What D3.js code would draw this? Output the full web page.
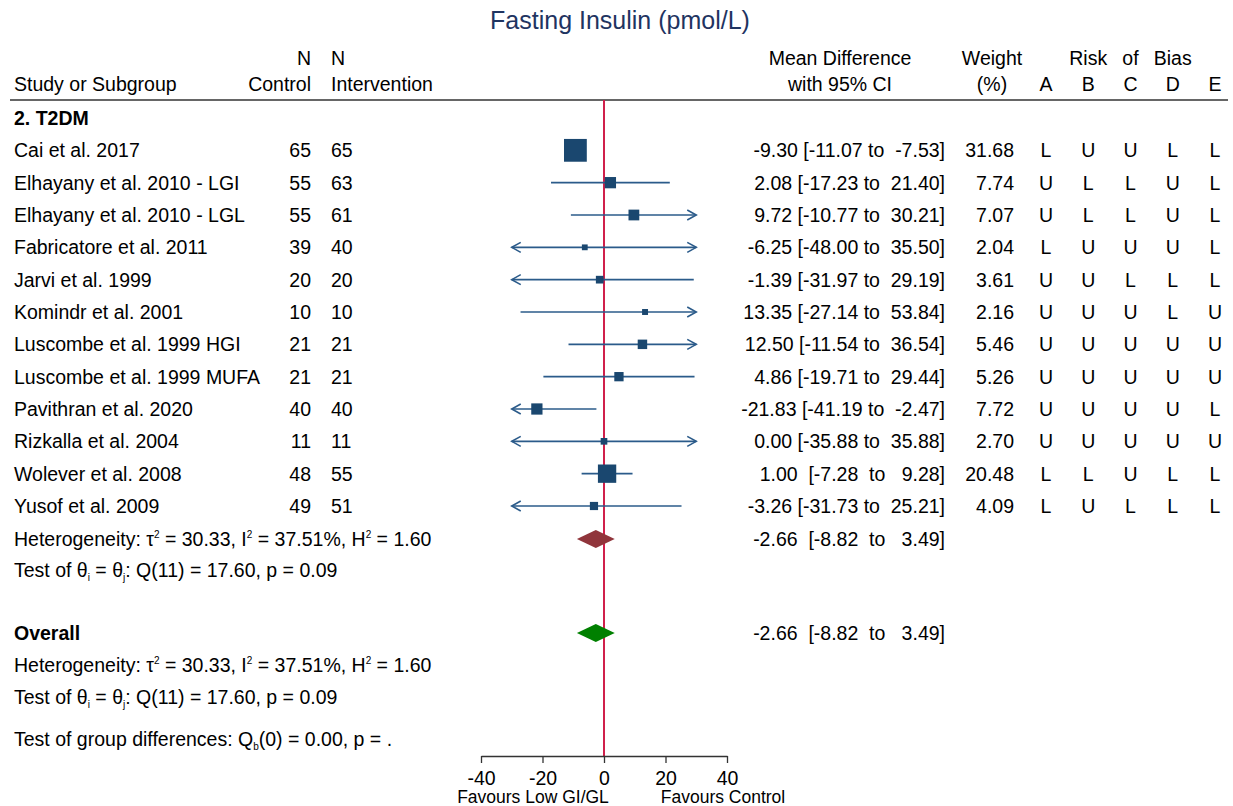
<!DOCTYPE html>
<html lang="en">
<head>
<meta charset="UTF-8">
<title>Fasting Insulin forest plot</title>
<style>
    body { margin: 0; background: #fff; }
    svg text { font-family: "Liberation Sans", Arial, sans-serif; fill: #000; }
</style>
</head>
<body>
<script src="https://cdn.jsdelivr.net/npm/d3@7/dist/d3.min.js"></script>
<script>
    // data
    var studies = ["Cai et al. 2017", "Elhayany et al. 2010 - LGI", "Elhayany et al. 2010 - LGL",
        "Fabricatore et al. 2011", "Jarvi et al. 1999", "Komindr et al. 2001",
        "Luscombe et al. 1999 HGI", "Luscombe et al. 1999 MUFA", "Pavithran et al. 2020",
        "Rizkalla et al. 2004", "Wolever et al. 2008", "Yusof et al. 2009"];
    var nControl = [65, 55, 55, 39, 20, 10, 21, 21, 40, 11, 48, 49];
    var nIntervention = [65, 63, 61, 40, 20, 10, 21, 21, 40, 11, 55, 51];
    var meanDiff = [-9.30, 2.08, 9.72, -6.25, -1.39, 13.35, 12.50, 4.86, -21.83, 0.00, 1.00, -3.26];
    var ciLow = [-11.07, -17.23, -10.77, -48.00, -31.97, -27.14, -11.54, -19.71, -41.19, -35.88, -7.28, -31.73];
    var ciHigh = [-7.53, 21.40, 30.21, 35.50, 29.19, 53.84, 36.54, 29.44, -2.47, 35.88, 9.28, 25.21];
    var weight = [31.68, 7.74, 7.07, 2.04, 3.61, 2.16, 5.46, 5.26, 7.72, 2.70, 20.48, 4.09];
    var rob = [
        ["L", "U", "U", "L", "L"],
        ["U", "L", "L", "U", "L"],
        ["U", "L", "L", "U", "L"],
        ["L", "U", "U", "U", "L"],
        ["U", "U", "L", "L", "L"],
        ["U", "U", "U", "L", "U"],
        ["U", "U", "U", "U", "U"],
        ["U", "U", "U", "U", "U"],
        ["U", "U", "U", "U", "L"],
        ["U", "U", "U", "U", "U"],
        ["L", "L", "U", "L", "L"],
        ["L", "U", "L", "L", "L"]
    ];
    var pooled = [-2.66, -8.82, 3.49];   // subgroup and overall (same)
    var xTicks = [-40, -20, 0, 20, 40];
    var robCols = ["A", "B", "C", "D", "E"];

    var w = 1233, h = 806;
    var navy = "#1a476f";
    var lineCol = "#2b5b8a";

    var svg = d3.select("body").append("svg")
        .attr("width", w)
        .attr("height", h);

    var x = d3.scaleLinear().domain([-40, 40]).range([481, 727]);
    var clip = [-30, 30];
    // row index -> y centre
    var y = d3.scaleLinear().domain([0, 12, 13, 16, 18]).range([118, 506, 539, 633, 697]);
    var fs = 19.5;

    function txt(xp, yp, s, anchor, opts) {
        opts = opts || {};
        return svg.append("text")
            .attr("x", xp)
            .attr("y", yp)
            .attr("dy", "0.36em")
            .attr("xml:space", "preserve")
            .attr("text-anchor", anchor || "start")
            .attr("font-size", (opts.size || fs) + "px")
            .attr("font-weight", opts.bold ? "bold" : null)
            .style("fill", opts.fill || "#000")
            .style("white-space", "pre")
            .text(s);
    }

    // title
    txt(620, 20, "Fasting Insulin (pmol/L)", "middle", {size: 25, fill: "#1f3461"});

    // header
    var hy1 = 58, hy2 = 84;
    txt(14, hy2, "Study or Subgroup");
    txt(311, hy1, "N", "end");
    txt(311, hy2, "Control", "end");
    txt(331, hy1, "N");
    txt(331, hy2, "Intervention");
    txt(840, hy1, "Mean Difference", "middle");
    txt(840, hy2, "with 95% CI", "middle");
    txt(992, hy1, "Weight", "middle");
    txt(992, hy2, "(%)", "middle");
    var robX = d3.scalePoint().domain(robCols).range([1046, 1215]);
    txt(robX("B"), hy1, "Risk", "middle");
    txt(robX("C"), hy1, "of", "middle");
    txt(robX("D"), hy1, "Bias", "middle");
    robCols.forEach(function (c) { txt(robX(c), hy2, c, "middle"); });

    svg.append("line")
        .attr("x1", 10).attr("x2", 1228)
        .attr("y1", 100).attr("y2", 100)
        .attr("stroke", "#333").attr("stroke-width", 1.6);

    // reference line at zero
    svg.append("line")
        .attr("x1", x(0)).attr("x2", x(0))
        .attr("y1", 100).attr("y2", 756)
        .attr("stroke", "#d0204b").attr("stroke-width", 2);

    txt(14, y(0), "2. T2DM", "start", {bold: true});

    function fmtCI(es, lo, hi) {
        var loS = lo.toFixed(2), hiS = hi.toFixed(2);
        var loPart = loS.length < 6 ? " [" + loS + " " : "[" + loS;
        while (hiS.length < 6) hiS = " " + hiS;
        return es.toFixed(2) + " " + loPart + " to " + hiS + "]";
    }

    // study rows
    studies.forEach(function (s, i) {
        var cy = y(i + 1);
        txt(14, cy, s);
        txt(311, cy, nControl[i], "end");
        txt(331, cy, nIntervention[i]);
        txt(945, cy, fmtCI(meanDiff[i], ciLow[i], ciHigh[i]), "end");
        txt(1014, cy, weight[i].toFixed(2), "end");
        rob[i].forEach(function (r, j) { txt(robX(robCols[j]), cy, r, "middle"); });
    });

    var g = svg.append("g");
    var rows = d3.range(studies.length);

    // CI lines
    g.selectAll("line.ci").data(rows).enter().append("line")
        .attr("class", "ci")
        .attr("x1", function (i) { return x(Math.max(ciLow[i], clip[0])); })
        .attr("x2", function (i) { return x(Math.min(ciHigh[i], clip[1])); })
        .attr("y1", function (i) { return y(i + 1); })
        .attr("y2", function (i) { return y(i + 1); })
        .attr("stroke", lineCol).attr("stroke-width", 1.6);

    // arrows where CI is clipped
    rows.forEach(function (i) {
        var cy = y(i + 1);
        if (ciLow[i] < clip[0]) {
            var tx = x(clip[0]);
            g.append("path")
                .attr("d", "M" + (tx + 9) + "," + (cy - 5) + "L" + tx + "," + cy + "L" + (tx + 9) + "," + (cy + 5))
                .attr("fill", "none").attr("stroke", lineCol).attr("stroke-width", 1.6);
        }
        if (ciHigh[i] > clip[1]) {
            var tx2 = x(clip[1]);
            g.append("path")
                .attr("d", "M" + (tx2 - 9) + "," + (cy - 5) + "L" + tx2 + "," + cy + "L" + (tx2 - 9) + "," + (cy + 5))
                .attr("fill", "none").attr("stroke", lineCol).attr("stroke-width", 1.6);
        }
    });

    // weighted squares
    var side = function (i) { return 4.05 * Math.sqrt(weight[i]); };
    g.selectAll("rect.box").data(rows).enter().append("rect")
        .attr("class", "box")
        .attr("x", function (i) { return x(meanDiff[i]) - side(i) / 2; })
        .attr("y", function (i) { return y(i + 1) - side(i) / 2; })
        .attr("width", side)
        .attr("height", side)
        .attr("fill", navy);

    // small raised / lowered characters
    function sup(t, s) {
        t.append("tspan").attr("dy", "-8px").attr("font-size", "10px").text(s);
    }
    function sub(t, s) {
        t.append("tspan").attr("dy", "4px").attr("font-size", "10px").text(s);
    }
    function back(t, s, d) {
        t.append("tspan").attr("dy", d + "px").text(s);
    }

    function hetLine(cy) {
        var t = txt(14, cy, "Heterogeneity: τ");
        sup(t, "2"); back(t, " = 30.33, I", 8);
        sup(t, "2"); back(t, " = 37.51%, H", 8);
        sup(t, "2"); back(t, " = 1.60", 8);
    }
    function testLine(cy) {
        var t = txt(14, cy, "Test of θ");
        sub(t, "i"); back(t, " = θ", -4);
        sub(t, "j"); back(t, ": Q(11) = 17.60, p = 0.09", -4);
    }
    function diamond(cy, col) {
        var l = x(pooled[1]), r = x(pooled[2]), m = x(pooled[0]);
        svg.append("path")
            .attr("d", "M" + l + "," + cy + "L" + m + "," + (cy - 9) + "L" + r + "," + cy + "L" + m + "," + (cy + 9) + "Z")
            .attr("fill", col);
        txt(945, cy, fmtCI(pooled[0], pooled[1], pooled[2]), "end");
    }

    hetLine(y(13));
    testLine(y(14));
    diamond(y(13), "#90353b");

    txt(14, y(16), "Overall", "start", {bold: true});
    diamond(y(16), "#008000");
    hetLine(y(17));
    testLine(y(18));

    var gd = txt(14, 739, "Test of group differences: Q");
    sub(gd, "b"); back(gd, "(0) = 0.00, p = .", -4);

    // axis
    var axis = d3.axisBottom(x).tickValues(xTicks).tickSize(7).tickSizeOuter(0).tickPadding(8)
        .tickFormat(function (d) { return String(d); });
    var ag = svg.append("g").attr("transform", "translate(0,756)").call(axis);
    ag.select(".domain").attr("stroke", "#333").attr("stroke-width", 1.3);
    ag.selectAll(".tick line").attr("stroke", "#333").attr("stroke-width", 1.3);
    ag.selectAll(".tick text")
        .attr("font-size", "19.5px")
        .attr("font-family", "Liberation Sans, Arial, sans-serif")
        .style("fill", "#000");

    txt(533, 797, "Favours Low GI/GL", "middle", {size: 17.5});
    txt(723, 797, "Favours Control", "middle", {size: 17.5});
</script>
</body>
</html>
